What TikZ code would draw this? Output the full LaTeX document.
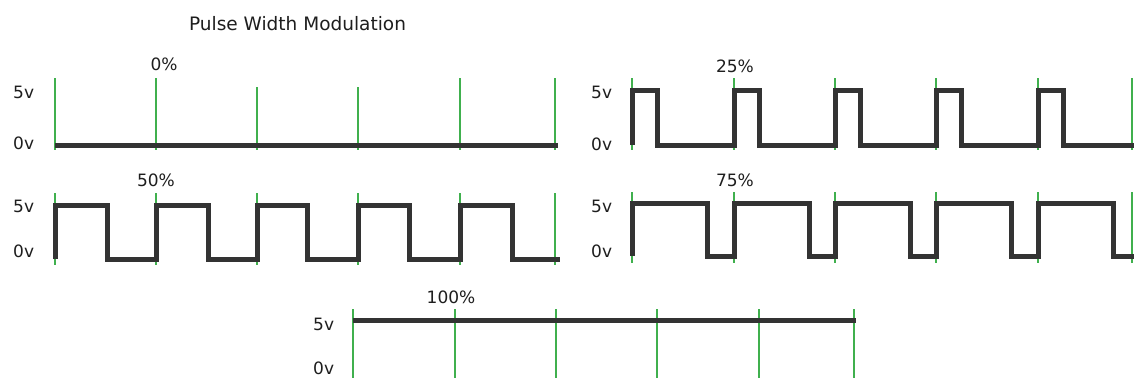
\documentclass[tikz,border=0pt]{standalone}
\usepackage{fontspec}
\setmainfont{DejaVu Sans}
\definecolor{wave}{RGB}{51,51,51}
\definecolor{tick}{RGB}{64,176,78}
\definecolor{txt}{RGB}{30,30,30}
\begin{document}
\begin{tikzpicture}[x=1pt,y=-1pt,
  wavestyle/.style={draw=wave,line width=5pt,line join=miter,line cap=butt},
  tickstyle/.style={draw=tick,line width=2pt},
  lbl/.style={anchor=base west,inner sep=0pt,text=txt,font=\fontsize{17}{17}\selectfont},
  pct/.style={anchor=base,inner sep=0pt,text=txt,font=\fontsize{17}{17}\selectfont},
  ttl/.style={anchor=base,inner sep=0pt,text=txt,font=\fontsize{18.5}{18.5}\selectfont}]
\useasboundingbox (0,0) rectangle (1134,378);
\fill[white] (0,0) rectangle (1134,378);

% title
\node[ttl] (title) at (297.5,30) {Pulse Width Modulation};

% ---------- 0% ----------
\foreach \x in {55,156,460,555} \draw[tickstyle] (\x,78) -- (\x,150);
\foreach \x in {257,358} \draw[tickstyle] (\x,87) -- (\x,150);
\draw[wavestyle] (55,145) -- (558,145);
\node[pct] (p0) at (164,70) {0\%};
\node[lbl] (a5) at (13,98) {5v};
\node[lbl] (a0) at (13,149) {0v};

% ---------- 25% ----------
\foreach \x in {632,734,835,936,1038,1132} \draw[tickstyle] (\x,78) -- (\x,150);
\draw[wavestyle] (632,145)
  \foreach \x in {632,734,835,936,1038} { -- (\x,145) -- (\x,90) -- ({\x+25},90) -- ({\x+25},145) }
  -- (1134,145);
\node[pct] (p25) at (735,72) {25\%};
\node[lbl] (b5) at (591,98) {5v};
\node[lbl] (b0) at (591,150) {0v};

% ---------- 50% ----------
\foreach \x in {55,156,257,358,460,555} \draw[tickstyle] (\x,193) -- (\x,265);
\draw[wavestyle] (55,259)
  \foreach \x/\y in {55/107,156/208,257/307,358/409,460/512} { -- (\x,259) -- (\x,205) -- (\y,205) -- (\y,259) }
  -- (560,259);
\node[pct] (p50) at (156,186) {50\%};
\node[lbl] (c5) at (13,212) {5v};
\node[lbl] (c0) at (13,257) {0v};

% ---------- 75% ----------
\foreach \x in {632,734,835,936,1038,1132} \draw[tickstyle] (\x,192) -- (\x,263);
\draw[wavestyle] (632,256)
  \foreach \x in {632,734,835,936,1038} { -- (\x,256) -- (\x,203) -- ({\x+75},203) -- ({\x+75},256) }
  -- (1134,256);
\node[pct] (p75) at (735,186) {75\%};
\node[lbl] (d5) at (591,212) {5v};
\node[lbl] (d0) at (591,257) {0v};

% ---------- 100% ----------
\foreach \x in {353,455,556,657,759,854} \draw[tickstyle] (\x,309) -- (\x,378);
\draw[wavestyle] (353,320) -- (856,320);
\node[pct] (p100) at (451,303) {100\%};
\node[lbl] (e5) at (313,330) {5v};
\node[lbl] (e0) at (313,374) {0v};
\end{tikzpicture}
\end{document}
